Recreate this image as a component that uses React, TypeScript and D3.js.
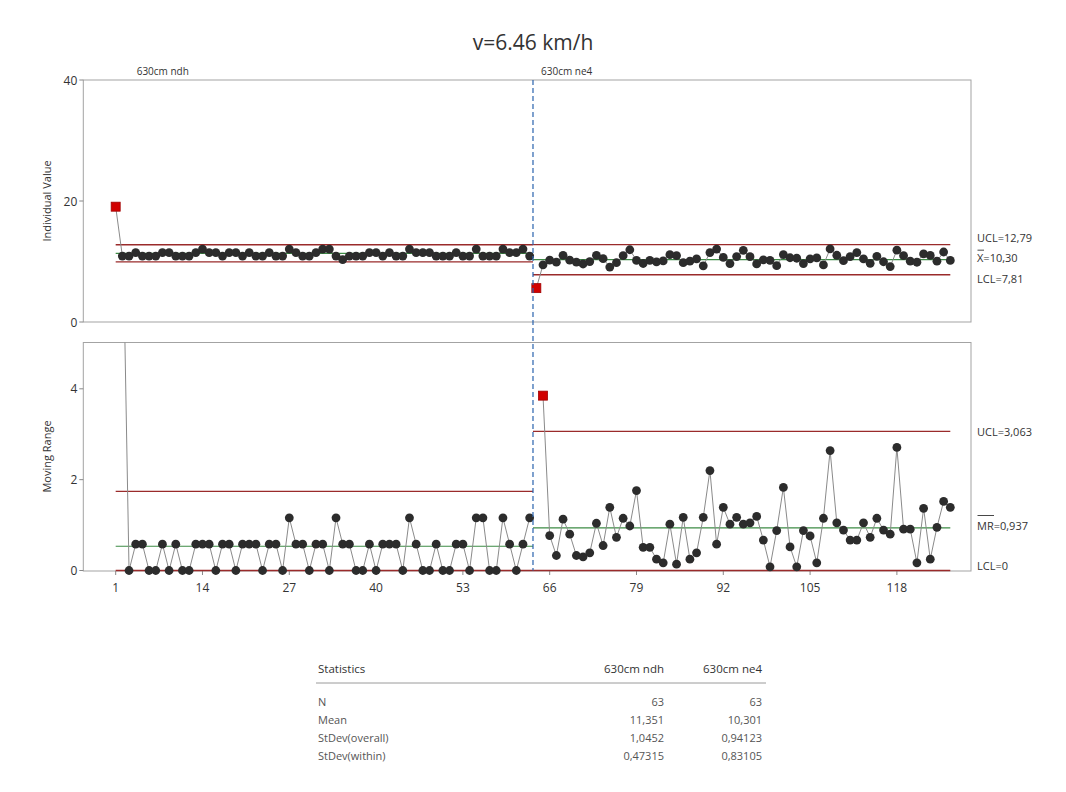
import React from 'react';
import * as d3 from 'd3';

const titleText = 'v=6.46 km/h';
const stageNames = ['630cm ndh', '630cm ne4'];

const stage1Values = [
  19.06, 10.89, 10.89, 11.47, 10.89, 10.89, 10.89, 11.47, 11.47, 10.89,
  10.89, 10.89, 11.47, 12.05, 11.47, 11.47, 10.89, 11.47, 11.47, 10.89,
  11.47, 10.89, 10.89, 11.47, 10.89, 10.89, 12.05, 11.47, 10.89, 10.89,
  11.47, 12.05, 12.05, 10.89, 10.31, 10.89, 10.89, 10.89, 11.47, 11.47,
  10.89, 11.47, 10.89, 10.89, 12.05, 11.47, 11.47, 11.47, 10.89, 10.89,
  10.89, 11.47, 10.89, 10.89, 12.05, 10.89, 10.89, 10.89, 12.05, 11.47,
  11.47, 12.05, 10.89,
];

const stage2Values = [
  5.60, 9.45, 10.22, 9.89, 11.02, 10.22, 9.89, 9.59, 9.98, 11.02,
  10.47, 9.08, 9.81, 10.96, 11.94, 10.18, 9.67, 10.18, 9.93, 10.10,
  11.12, 10.98, 9.81, 10.06, 10.45, 9.28, 11.48, 12.06, 10.67, 9.65,
  10.82, 11.84, 10.79, 9.60, 10.27, 10.19, 9.31, 11.14, 10.62, 10.54,
  9.66, 10.42, 10.59, 9.44, 12.08, 11.03, 10.14, 10.81, 11.48, 10.43,
  9.70, 10.85, 9.96, 9.16, 11.87, 10.96, 10.05, 9.88, 11.25, 11.00,
  10.05, 11.57, 10.18,
];

const stageN = [63, 63];
const stageMeans = [11.351, 10.301];
const stageStdevOverall = [1.0452, 0.94123];
const stageStdevWithin = [0.47315, 0.83105];

const xTicks = [1, 14, 27, 40, 53, 66, 79, 92, 105, 118];
const ivTicks = [0, 20, 40];
const mrTicks = [0, 2, 4];
const statRowLabels = ['N', 'Mean', 'StDev(overall)', 'StDev(within)'];

const D2 = 1.128;
const D4 = 3.267;

const FONT = "'Open Sans', 'Noto Sans', sans-serif";
const LEFT = 83.3;
const RIGHT = 971;
const IV_TOP = 80;
const IV_BOTTOM = 322;
const MR_TOP = 342.5;
const MR_BOTTOM = 570.5;

const comma = (s: string) => s.replace('.', ',');

export default function App() {
  const x = d3.scaleLinear().domain([-3.85, 129.1]).range([LEFT, RIGHT]);
  const yI = d3.scaleLinear().domain([0, 40]).range([IV_BOTTOM, IV_TOP]);
  const yM = d3.scaleLinear().domain([0, 5.02]).range([MR_BOTTOM, MR_TOP]);

  const stages = [stage1Values, stage2Values];
  let offset = 0;
  const stageData = stages.map((vals, s) => {
    const start = offset + 1;
    const pts = vals.map((v, j) => ({
      i: start + j,
      v,
      mr: j === 0 ? null : Math.abs(v - vals[j - 1]),
    }));
    offset += vals.length;
    const mean = stageMeans[s];
    const sw = stageStdevWithin[s];
    const ucl = mean + 3 * sw;
    const lcl = mean - 3 * sw;
    const mrBar = sw * D2;
    const mrUcl = D4 * mrBar;
    return { start, end: offset, pts, mean, ucl, lcl, mrBar, mrUcl };
  });
  const nStages = stageData.length;
  const xStart = (s: number) => (s === 0 ? x(stageData[s].start) : x(stageData[s].start - 0.5));
  const xEnd = (s: number) => (s === nStages - 1 ? x(stageData[s].end) : x(stageData[s].end + 0.5));

  const lineI = d3.line<{ i: number; v: number }>().x(d => x(d.i)).y(d => yI(d.v));
  const lineM = d3.line<{ i: number; mr: number }>().x(d => x(d.i)).y(d => yM(d.mr));

  const ctrlRed = '#9a2b2b';
  const ctrlGreen = '#3d8b45';
  const ptFill = '#2c2c2c';
  const connector = '#8a8a8a';
  const oocFill = '#d10000';
  const R = 4.4;

  const last = stageData[nStages - 1];
  const gapI = 20.5;
  let ivLab = [yI(last.ucl), yI(last.mean), yI(last.lcl)];
  if (ivLab[1] - ivLab[0] < gapI) ivLab[0] = ivLab[1] - gapI;
  if (ivLab[2] - ivLab[1] < gapI) ivLab[2] = ivLab[1] + gapI;
  ivLab = ivLab.map(v => v - 2);
  let mrLab = [yM(last.mrUcl), yM(last.mrBar), Math.min(yM(0), MR_BOTTOM - 5)];
  if (mrLab[2] - mrLab[1] < 40) mrLab[1] = mrLab[2] - 40;
  const labX = 977;

  const square = (cx: number, cy: number, key: string) => (
    <rect key={key} x={cx - 4.5} y={cy - 4.5} width={9} height={9} fill={oocFill} stroke="#a00000" strokeWidth={0.8} />
  );

  const statCols = [664, 762];
  const statRows = [
    stageN.map(v => String(v)),
    stageMeans.map(v => comma(String(v))),
    stageStdevOverall.map(v => comma(String(v))),
    stageStdevWithin.map(v => comma(String(v))),
  ];

  return (
    <svg width={1066} height={792} style={{ position: 'absolute', left: 0, top: 0, background: '#fff' }} fontFamily={FONT}>
      <defs>
        <clipPath id="clipI"><rect x={LEFT} y={IV_TOP} width={RIGHT - LEFT} height={IV_BOTTOM - IV_TOP} /></clipPath>
        <clipPath id="clipM"><rect x={LEFT} y={MR_TOP} width={RIGHT - LEFT} height={MR_BOTTOM - MR_TOP + 4} /></clipPath>
      </defs>
      <rect x={0} y={0} width={1066} height={792} fill="#fff" />

      <text x={533} y={42} textAnchor="middle" dominantBaseline="central" fontSize={21} fill="#333">{titleText}</text>

      <rect x={LEFT} y={IV_TOP} width={RIGHT - LEFT} height={IV_BOTTOM - IV_TOP} fill="none" stroke="#a3a3a3" strokeWidth={1} />
      <rect x={LEFT} y={MR_TOP} width={RIGHT - LEFT} height={MR_BOTTOM + 0.5 - MR_TOP} fill="none" stroke="#a3a3a3" strokeWidth={1} />

      {ivTicks.map(t => (
        <g key={'it' + t}>
          <line x1={LEFT - 4} x2={LEFT} y1={yI(t)} y2={yI(t)} stroke="#888" />
          <text x={LEFT - 6} y={yI(t)} textAnchor="end" dominantBaseline="central" fontSize={12} fill="#333">{t}</text>
        </g>
      ))}
      {mrTicks.map(t => (
        <g key={'mt' + t}>
          <line x1={LEFT - 4} x2={LEFT} y1={yM(t)} y2={yM(t)} stroke="#888" />
          <text x={LEFT - 6} y={yM(t)} textAnchor="end" dominantBaseline="central" fontSize={12} fill="#333">{t}</text>
        </g>
      ))}
      {xTicks.map(t => (
        <g key={'xt' + t}>
          <line x1={x(t)} x2={x(t)} y1={MR_BOTTOM + 0.5} y2={MR_BOTTOM + 4.5} stroke="#888" />
          <text x={x(t)} y={587} textAnchor="middle" dominantBaseline="central" fontSize={12} fill="#333">{t}</text>
        </g>
      ))}

      <text transform={`translate(46,${(IV_TOP + IV_BOTTOM) / 2}) rotate(-90)`} textAnchor="middle" dominantBaseline="central" fontSize={11} fill="#333">Individual Value</text>
      <text transform={`translate(46,${(MR_TOP + MR_BOTTOM) / 2}) rotate(-90)`} textAnchor="middle" dominantBaseline="central" fontSize={11} fill="#333">Moving Range</text>

      {stageData.map((sd, s) => (
        <g key={'cl' + s}>
          <line x1={xStart(s)} x2={xEnd(s)} y1={yI(sd.ucl)} y2={yI(sd.ucl)} stroke={ctrlRed} strokeWidth={1.3} />
          <line x1={xStart(s)} x2={xEnd(s)} y1={yI(sd.lcl)} y2={yI(sd.lcl)} stroke={ctrlRed} strokeWidth={1.3} />
          <line x1={xStart(s)} x2={xEnd(s)} y1={yI(sd.mean)} y2={yI(sd.mean)} stroke={ctrlGreen} strokeWidth={1.2} />
          <line x1={xStart(s)} x2={xEnd(s)} y1={yM(sd.mrUcl)} y2={yM(sd.mrUcl)} stroke={ctrlRed} strokeWidth={1.3} />
          <line x1={xStart(s)} x2={xEnd(s)} y1={yM(0)} y2={yM(0)} stroke={ctrlRed} strokeWidth={1.3} />
          <line x1={xStart(s)} x2={xEnd(s)} y1={yM(sd.mrBar)} y2={yM(sd.mrBar)} stroke={ctrlGreen} strokeWidth={1.2} />
        </g>
      ))}

      {stageData.map((sd, s) => (
        <g key={'dl' + s}>
          <path d={lineI(sd.pts) || ''} fill="none" stroke={connector} strokeWidth={1} clipPath="url(#clipI)" />
          <path d={lineM(sd.pts.filter(p => p.mr !== null) as any) || ''} fill="none" stroke={connector} strokeWidth={1} clipPath="url(#clipM)" />
        </g>
      ))}

      {stageData.map((sd, s) => (
        <g key={'pt' + s}>
          {sd.pts.map(p => {
            const ooc = p.v > sd.ucl || p.v < sd.lcl;
            return ooc ? square(x(p.i), yI(p.v), 'i' + p.i) : <circle key={'i' + p.i} cx={x(p.i)} cy={yI(p.v)} r={R} fill={ptFill} />;
          })}
          {sd.pts.filter(p => p.mr !== null && (p.mr as number) <= 5.02).map(p => {
            const mr = p.mr as number;
            const ooc = mr > sd.mrUcl;
            return ooc ? square(x(p.i), yM(mr), 'm' + p.i) : <circle key={'m' + p.i} cx={x(p.i)} cy={yM(mr)} r={R} fill={ptFill} />;
          })}
        </g>
      ))}

      {stageData.slice(1).map((sd, s) => (
        <line key={'sd' + s} x1={x(sd.start - 0.5)} x2={x(sd.start - 0.5)} y1={IV_TOP} y2={MR_BOTTOM} stroke="#2a62ad" strokeWidth={1.2} strokeDasharray="5,3" />
      ))}

      {stageData.map((sd, s) => (
        <text key={'sl' + s} x={s === 0 ? x(sd.start) + 21 : x(sd.start - 0.5) + 8} y={71} fontSize={10} fill="#333" dominantBaseline="central">{stageNames[s]}</text>
      ))}

      <text x={labX} y={ivLab[0]} dominantBaseline="central" fontSize={11} fill="#333">{'UCL=' + comma(last.ucl.toFixed(2))}</text>
      <text x={labX} y={ivLab[1]} dominantBaseline="central" fontSize={11} fill="#333">{'X=' + comma(last.mean.toFixed(2))}</text>
      <line x1={labX + 0.5} x2={labX + 7} y1={ivLab[1] - 7.5} y2={ivLab[1] - 7.5} stroke="#333" strokeWidth={0.9} />
      <text x={labX} y={ivLab[2]} dominantBaseline="central" fontSize={11} fill="#333">{'LCL=' + comma(last.lcl.toFixed(2))}</text>

      <text x={labX} y={mrLab[0]} dominantBaseline="central" fontSize={11} fill="#333">{'UCL=' + comma(last.mrUcl.toFixed(3))}</text>
      <text x={labX} y={mrLab[1]} dominantBaseline="central" fontSize={11} fill="#333">{'MR=' + comma(last.mrBar.toFixed(3))}</text>
      <line x1={labX + 0.5} x2={labX + 17} y1={mrLab[1] - 10} y2={mrLab[1] - 10} stroke="#333" strokeWidth={0.9} />
      <text x={labX} y={mrLab[2]} dominantBaseline="central" fontSize={11} fill="#333">LCL=0</text>

      <text x={318} y={668} dominantBaseline="central" fontSize={11.5} fill="#333">Statistics</text>
      {stageNames.map((n, s) => (
        <text key={'sh' + s} x={statCols[s]} y={668} textAnchor="end" dominantBaseline="central" fontSize={11.5} fill="#333">{n}</text>
      ))}
      <line x1={316} x2={766} y1={683} y2={683} stroke="#9a9a9a" strokeWidth={1} />
      {statRowLabels.map((lab, r) => (
        <g key={'sr' + r}>
          <text x={318} y={701 + r * 18} dominantBaseline="central" fontSize={11} fill="#555">{lab}</text>
          {statRows[r].map((v, s) => (
            <text key={'sv' + s} x={statCols[s]} y={701 + r * 18} textAnchor="end" dominantBaseline="central" fontSize={11} fill="#555">{v}</text>
          ))}
        </g>
      ))}
    </svg>
  );
}
